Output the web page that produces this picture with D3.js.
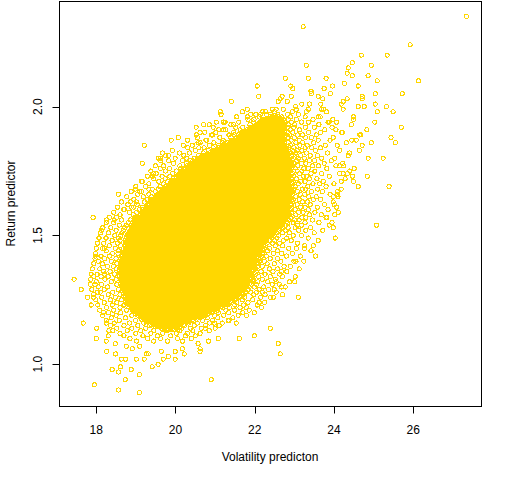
<!DOCTYPE html>
<html><head><meta charset="utf-8">
<script src="https://cdn.jsdelivr.net/npm/d3@7"></script>
<style>body{margin:0;background:#fff}svg{display:block}text{font-family:Arial,"Liberation Sans",sans-serif;font-size:12px;fill:#000}</style>
</head><body><svg id="c" width="512" height="480"></svg>
<script>
const xTicks=[18,20,22,24,26];
const yTicks=[1.0,1.5,2.0];
const yTickLabels=["1.0","1.5","2.0"];
const xTitle="Volatility predicton";
const yTitle="Return predictor";
// dense core: column positions (two interleaved sets) and per-row extents read from the solid region
const colA=[18.50,18.58,18.65,18.73,18.80,18.88,18.96,19.03,19.11,19.18,19.26,19.34,19.41,19.49,19.56,19.64,19.72,19.79,19.87,19.94,20.02,20.10,20.17,20.25,20.32,20.40,20.48,20.55,20.63,20.70,20.78,20.86,20.93,21.01,21.08,21.16,21.24,21.31,21.39,21.46,21.54,21.62,21.69,21.77,21.84,21.92,22.00,22.07,22.15,22.22,22.30,22.38,22.45,22.53,22.60,22.68,22.76,22.83,22.91];
const colB=[18.54,18.62,18.69,18.77,18.84,18.92,19.00,19.07,19.15,19.22,19.30,19.38,19.45,19.53,19.60,19.68,19.76,19.83,19.91,19.98,20.06,20.14,20.21,20.29,20.36,20.44,20.52,20.59,20.67,20.74,20.82,20.90,20.97,21.05,21.12,21.20,21.28,21.35,21.43,21.50,21.58,21.66,21.73,21.81,21.88,21.96,22.04,22.11,22.19,22.26,22.34,22.42,22.49,22.57,22.64,22.72,22.80,22.87,22.95];
const rowY=[1.96,1.95,1.94,1.93,1.92,1.91,1.90,1.89,1.88,1.87,1.86,1.85,1.84,1.83,1.82,1.81,1.80,1.79,1.78,1.77,1.76,1.75,1.74,1.73,1.72,1.71,1.70,1.69,1.68,1.67,1.66,1.65,1.64,1.63,1.62,1.61,1.60,1.59,1.58,1.57,1.56,1.55,1.54,1.53,1.52,1.51,1.50,1.49,1.48,1.47,1.46,1.45,1.44,1.43,1.42,1.41,1.40,1.39,1.38,1.37,1.36,1.35,1.34,1.33,1.32,1.31,1.30,1.29,1.28,1.27,1.26,1.25,1.24,1.23,1.22,1.21,1.20,1.19,1.18,1.17,1.16,1.15,1.14];
const rowY2=[1.955,1.945,1.935,1.925,1.915,1.905,1.895,1.885,1.875,1.865,1.855,1.845,1.835,1.825,1.815,1.805,1.795,1.785,1.775,1.765,1.755,1.745,1.735,1.725,1.715,1.705,1.695,1.685,1.675,1.665,1.655,1.645,1.635,1.625,1.615,1.605,1.595,1.585,1.575,1.565,1.555,1.545,1.535,1.525,1.515,1.505,1.495,1.485,1.475,1.465,1.455,1.445,1.435,1.425,1.415,1.405,1.395,1.385,1.375,1.365,1.355,1.345,1.335,1.325,1.315,1.305,1.295,1.285,1.275,1.265,1.255,1.245,1.235,1.225,1.215,1.205,1.195,1.185,1.175,1.165,1.155,1.145,1.135];
const rowL=[22.34,22.18,22.08,21.98,21.88,21.75,21.65,21.55,21.47,21.37,21.25,21.15,21.02,20.92,20.79,20.67,20.54,20.44,20.36,20.29,20.21,20.14,20.06,19.99,19.94,19.86,19.81,19.73,19.68,19.61,19.53,19.46,19.38,19.33,19.28,19.23,19.18,19.13,19.08,19.03,18.95,18.90,18.88,18.85,18.83,18.80,18.77,18.75,18.72,18.70,18.70,18.67,18.67,18.65,18.65,18.62,18.60,18.60,18.60,18.57,18.57,18.57,18.57,18.60,18.60,18.62,18.65,18.65,18.67,18.70,18.72,18.75,18.77,18.80,18.85,18.90,18.98,19.05,19.15,19.25,19.36,19.48,19.61];
const rowR=[22.71,22.76,22.76,22.76,22.76,22.76,22.76,22.76,22.76,22.76,22.79,22.79,22.81,22.81,22.84,22.86,22.89,22.89,22.89,22.89,22.89,22.89,22.89,22.89,22.89,22.89,22.89,22.89,22.89,22.89,22.89,22.89,22.89,22.89,22.86,22.86,22.84,22.84,22.81,22.81,22.79,22.74,22.69,22.61,22.54,22.46,22.38,22.33,22.28,22.23,22.18,22.16,22.13,22.11,22.08,22.06,22.03,22.00,21.98,21.95,21.95,21.93,21.90,21.88,21.88,21.83,21.78,21.75,21.68,21.63,21.53,21.42,21.32,21.22,21.10,20.97,20.82,20.67,20.52,20.36,20.24,20.11,20.06];
// scattered points around the core, one list per return level
const fringeY=[1.99,1.98,1.97,1.96,1.95,1.94,1.93,1.92,1.91,1.90,1.89,1.88,1.87,1.86,1.85,1.84,1.83,1.82,1.81,1.80,1.79,1.78,1.77,1.76,1.75,1.74,1.73,1.72,1.71,1.70,1.69,1.68,1.67,1.66,1.65,1.64,1.63,1.62,1.61,1.60,1.59,1.58,1.57,1.56,1.55,1.54,1.53,1.52,1.51,1.50,1.49,1.48,1.47,1.46,1.45,1.44,1.43,1.42,1.41,1.40,1.39,1.38,1.37,1.36,1.35,1.34,1.33,1.32,1.31,1.30,1.29,1.28,1.27,1.26,1.25,1.24,1.23,1.22,1.21,1.20,1.19,1.18,1.17,1.16,1.15,1.14,1.13,1.12,1.11,1.10,1.09];
const fringeX=[
[22.45,22.72,23.05],
[22.28,22.50,22.95,23.30],
[21.90,22.15,22.40,22.58,22.83,23.10],
[21.55,22.12,22.90,23.27,23.60],
[21.83,21.98,22.84,23.05,23.47],
[21.25,21.60,21.97,22.92,23.18,23.36,23.85],
[21.40,21.88,22.86,23.01,23.62],
[20.95,21.52,21.70,22.83,22.99,23.28,23.50,23.95],
[21.21,21.63,22.90,23.13,23.77],
[20.74,21.02,21.47,22.85,22.96,23.36,23.66,24.20],
[20.91,21.35,21.49,22.88,23.08,23.21,23.55],
[20.55,21.12,21.40,22.84,23.00,23.28,23.43,23.98],
[20.30,20.77,21.20,22.92,23.12,23.60,23.90],
[20.62,20.97,21.18,22.85,23.04,23.21,23.49,24.31],
[20.20,20.43,20.86,21.09,22.90,23.14,23.32,23.78,24.08],
[20.31,20.72,20.95,22.87,22.99,23.27,23.44,23.66],
[19.92,20.50,20.83,22.95,23.07,23.19,23.53,24.14],
[20.10,20.36,20.70,22.91,23.04,23.31,23.84],
[19.75,20.21,20.58,22.93,23.15,23.40,23.58,24.36],
[19.99,20.28,20.48,22.97,23.10,23.25,23.69,24.02],
[19.63,19.83,20.18,20.38,22.95,23.06,23.38,23.51,23.93],
[19.95,20.27,22.99,23.18,23.29,23.75,24.22],
[19.49,19.70,20.11,22.96,23.09,23.46,23.61,24.05],
[19.62,19.85,20.13,22.93,23.24,23.35,23.82],
[19.38,19.75,20.03,22.98,23.07,23.19,23.52,24.40],
[19.51,19.93,22.95,23.13,23.42,23.69,24.14],
[19.29,19.66,19.86,22.99,23.23,23.31,23.88],
[19.45,19.74,22.94,23.05,23.38,23.57,24.28],
[19.14,19.58,19.80,22.97,23.16,23.27,23.73],
[19.33,19.69,22.95,23.10,23.47,23.64,24.00],
[19.00,19.25,19.61,22.93,23.02,23.34,23.80],
[19.41,19.57,22.98,23.20,23.29,23.59,24.18],
[18.88,19.14,19.50,22.94,23.08,23.43,23.71],
[19.05,19.33,22.96,23.15,23.26,23.90],
[18.77,19.19,19.39,22.93,23.04,23.36,23.55,24.10],
[18.95,19.28,22.97,23.12,23.48,23.66],
[18.64,18.86,19.22,22.95,23.21,23.33,23.98],
[18.80,19.03,22.92,23.07,23.40,23.76],
[18.54,18.95,19.17,22.94,23.16,23.27,23.58,24.06],
[18.69,19.09,22.91,23.02,23.35,23.85],
[18.44,18.84,19.02,22.93,23.11,23.22,23.52],
[18.60,18.93,22.88,23.04,23.38,23.68,24.02],
[18.33,18.51,18.97,22.90,23.19,23.29,23.80],
[18.64,18.86,22.86,23.00,23.12,23.46],
[18.25,18.44,18.81,22.83,22.97,23.27,23.62],
[18.58,18.76,22.79,23.08,23.18,23.88],
[18.17,18.37,18.72,22.71,22.84,23.02,23.41],
[18.50,18.68,22.63,22.77,23.11,23.29,23.72],
[18.11,18.31,18.65,22.55,22.70,22.88,23.50],
[18.47,18.62,22.49,22.60,22.97,23.18],
[18.07,18.24,18.56,22.43,22.56,22.81,23.35],
[18.40,18.60,22.38,22.50,22.72,22.92,23.60],
[18.03,18.19,18.54,22.31,22.45,22.63,23.08],
[18.33,18.61,22.27,22.52,22.70,23.26],
[18.00,18.16,18.48,22.24,22.37,22.86,23.05],
[18.25,18.57,22.22,22.33,22.58,23.42],
[17.98,18.41,18.55,22.20,22.47,22.68,22.95],
[18.12,18.33,22.17,22.29,22.80,23.15],
[17.97,18.21,18.50,22.14,22.39,22.58],
[18.05,18.38,22.12,22.24,22.66,22.99,23.24],
[17.94,18.15,18.52,22.09,22.31,22.49],
[18.28,18.44,22.07,22.19,22.74,22.90],
[17.90,18.09,18.50,22.03,22.37,22.58,23.12],
[18.19,18.35,22.04,22.16,22.46,22.81],
[17.87,18.02,18.46,22.02,22.26,22.63],
[18.12,18.30,21.99,22.10,22.39,22.70,23.02],
[17.86,18.22,18.50,21.96,22.19,22.52],
[18.00,18.38,21.97,22.08,22.33,22.88],
[17.85,18.13,18.52,21.92,22.04,22.44,22.62],
[18.05,18.29,21.86,21.99,22.23,22.77],
[17.89,18.20,18.56,21.84,22.11,22.35],
[18.10,18.42,21.77,21.90,22.05,22.54],
[17.93,18.30,18.60,21.71,21.98,22.26,22.70],
[18.14,18.48,21.62,21.75,22.15,22.40],
[17.99,18.36,18.64,21.51,21.69,21.95],
[18.20,18.52,21.41,21.55,21.83,22.25],
[18.04,18.40,18.70,21.31,21.50,21.72,22.06],
[18.26,18.60,21.19,21.36,21.63,22.17],
[18.09,18.44,18.77,21.06,21.27,21.49,21.86],
[18.31,18.62,20.91,21.08,21.34,21.70,21.99],
[18.16,18.50,18.90,20.76,20.98,21.22,21.58],
[18.38,18.74,20.61,20.80,21.07,21.45],
[18.25,18.58,18.99,20.46,20.68,20.94,21.33],
[18.45,18.84,19.20,20.33,20.55,20.86,21.18],
[18.36,18.70,19.05,19.35,20.22,20.47,20.76,21.10],
[18.52,18.90,19.25,20.16,20.38,20.65,21.00],
[18.42,18.78,19.12,19.45,19.78,20.10,20.44,20.85],
[18.60,19.00,19.38,19.68,20.02,20.30,20.62],
[18.70,19.18,19.55,19.88,20.25,20.50],
[18.85,19.30,19.62,20.05,20.40],
[19.02,19.45,19.80,20.18]
];
// isolated points read individually
const outX=[27.34,23.22,25.92,24.69,25.34,23.30,24.46,24.94,24.36,24.33,24.46,24.86,22.77,23.35,23.80,26.13,25.09,24.26,24.61,22.91,22.96,23.96,23.75,22.06,23.42,23.43,23.91,25.72,25.04,24.71,24.71,22.10,22.69,22.92,24.33,24.23,23.60,23.72,22.64,22.59,22.82,23.19,23.38,23.67,24.18,24.61,24.76,25.04,25.32,24.23,25.09,25.49,23.69,23.74,22.54,22.20,23.03,23.35,23.81,23.65,23.97,24.49,24.49,24.44,24.06,25.03,24.83,25.70,24.05,24.21,23.88,24.65,25.44,25.55,24.45,24.56,24.68,24.94,24.71,24.64,24.39,24.86,25.24,24.14,24.25,24.51,24.84,24.61,24.49,24.18,24.34,24.47,24.23,25.39,24.11,24.08,25.07,24.03,23.95,23.98,23.82,24.01,24.08,23.98,23.48,23.26,23.53,23.01,23.10,22.67,22.49,22.19,22.47,22.11,22.39,22.59,22.64,23.04,22.67,22.54,21.79,21.53,21.35,21.99,21.61,21.08,20.83,20.90,20.62,20.75,21.18,20.98,21.79,17.44,17.62,17.78,17.87,17.94,18.03,17.97,17.67,18.01,18.00,18.18,18.25,18.26,18.40,18.61,18.56,17.95,18.56,18.73,19.09,19.09,18.88,18.49,18.63,18.74,19.01,19.21,19.41,19.56,19.69,19.82,19.99,19.99,20.22,20.17,20.62,20.57,18.32,18.48,18.30,18.25,18.76,18.91,19.31,19.64,19.10,19.26,17.92,18.13,18.15,18.25,17.97,17.94,18.21,18.56,18.71,18.45,19.16,19.16,18.98,19.10,19.33,19.01,18.88,19.57,19.82,19.42,18.21,18.16,18.40,19.21,19.89,19.62,21.41,21.13,21.15,21.21,21.81,21.69,20.71,20.85,20.52,21.03,21.09,20.94,20.52,20.62,20.42,20.35,20.57,20.79,20.59,21.47,21.82,22.03,22.30,21.53,21.27,20.07,19.67,19.44,18.26];
const outY=[2.35,2.31,2.24,2.20,2.20,2.16,2.17,2.16,2.15,2.13,2.12,2.12,2.11,2.11,2.11,2.10,2.10,2.09,2.08,2.08,2.07,2.08,2.07,2.08,2.06,2.05,2.05,2.05,2.05,2.04,2.03,2.04,2.04,2.04,2.03,2.02,2.04,2.03,2.03,2.02,2.02,2.01,2.01,2.01,2.01,2.00,2.00,2.01,2.00,1.99,1.98,1.98,1.99,1.99,1.99,1.98,2.00,1.99,1.98,1.96,1.95,1.96,1.95,1.93,1.94,1.94,1.91,1.92,1.91,1.90,1.94,1.89,1.88,1.86,1.87,1.87,1.89,1.86,1.85,1.83,1.82,1.80,1.80,1.77,1.77,1.76,1.73,1.69,1.71,1.71,1.74,1.73,1.74,1.69,1.59,1.67,1.54,1.49,1.55,1.53,1.57,1.62,1.66,1.65,1.46,1.45,1.42,1.32,1.26,1.30,1.29,1.28,1.26,1.24,1.14,1.08,1.04,1.40,1.36,1.32,1.19,1.16,1.17,1.11,1.10,1.10,1.09,0.94,1.06,1.14,1.16,1.16,1.22,1.33,1.29,1.26,1.23,1.26,1.28,1.31,1.16,1.14,1.10,1.20,1.16,1.05,0.98,0.99,0.97,0.92,0.90,0.94,0.96,0.89,0.98,1.04,1.02,1.02,1.02,1.02,0.99,1.00,1.02,1.03,1.02,1.05,1.04,1.06,1.05,1.08,1.13,1.08,1.11,1.09,1.07,1.06,1.04,1.05,1.07,1.04,1.57,1.52,1.53,1.49,1.42,1.34,1.45,1.66,1.60,1.56,1.78,1.71,1.68,1.67,1.68,1.63,1.61,1.80,1.81,1.73,1.35,1.39,1.48,1.85,1.87,1.80,2.02,1.98,1.97,1.94,1.99,1.98,1.93,1.93,1.92,1.94,1.91,1.89,1.89,1.90,1.85,1.82,1.86,1.87,1.84,1.93,1.96,1.97,1.97,1.96,1.91,1.88,1.82,1.74,1.56];

const svg=d3.select("#c");
const x=d3.scaleLinear().domain([17.06,27.71]).range([59,481]);
const y=d3.scaleLinear().domain([0.838,2.41]).range([406,1]);
const pts=[];
rowY.forEach((yy,i)=>{
  const col=i%2?colB:colA;
  col.filter(v=>v>=rowL[i]-1e-9&&v<=rowR[i]+1e-9).forEach(v=>pts.push([v,yy]));
});
rowY2.forEach((yy,i)=>{
  const col=i%2?colA:colB;
  col.filter(v=>v>=rowL[i]-1e-9&&v<=rowR[i]+1e-9).forEach(v=>pts.push([v,yy]));
});
fringeY.forEach((yy,i)=>fringeX[i].forEach(xx=>pts.push([xx,yy])));
outX.forEach((xx,i)=>pts.push([xx,outY[i]]));
svg.append("g").attr("shape-rendering","crispEdges").selectAll("circle").data(pts).join("circle")
  .attr("cx",d=>x(d[0])).attr("cy",d=>y(d[1])).attr("r",2.1)
  .attr("fill","none").attr("stroke","#FFD700").attr("stroke-width",1);
svg.append("rect").attr("x",59.5).attr("y",1.5).attr("width",422).attr("height",405)
  .attr("fill","none").attr("stroke","#000").attr("stroke-width",1);
const gx=svg.append("g");
xTicks.forEach(v=>{
  const px=Math.round(x(v))+0.5;
  gx.append("line").attr("x1",px).attr("x2",px).attr("y1",406.5).attr("y2",413.5).attr("stroke","#000");
  gx.append("text").attr("x",x(v)).attr("y",433.5).attr("text-anchor","middle").text(v);
});
const gy=svg.append("g");
yTicks.forEach((v,i)=>{
  const py=Math.round(y(v))+0.5;
  gy.append("line").attr("x1",52.5).attr("x2",59.5).attr("y1",py).attr("y2",py).attr("stroke","#000");
  gy.append("text").attr("transform",`translate(42,${y(v)}) rotate(-90)`).attr("text-anchor","middle").text(yTickLabels[i]);
});
svg.append("text").attr("x",270).attr("y",461).attr("text-anchor","middle").text(xTitle);
svg.append("text").attr("transform","translate(14.5,203.5) rotate(-90)").attr("text-anchor","middle").text(yTitle);
</script></body></html>
